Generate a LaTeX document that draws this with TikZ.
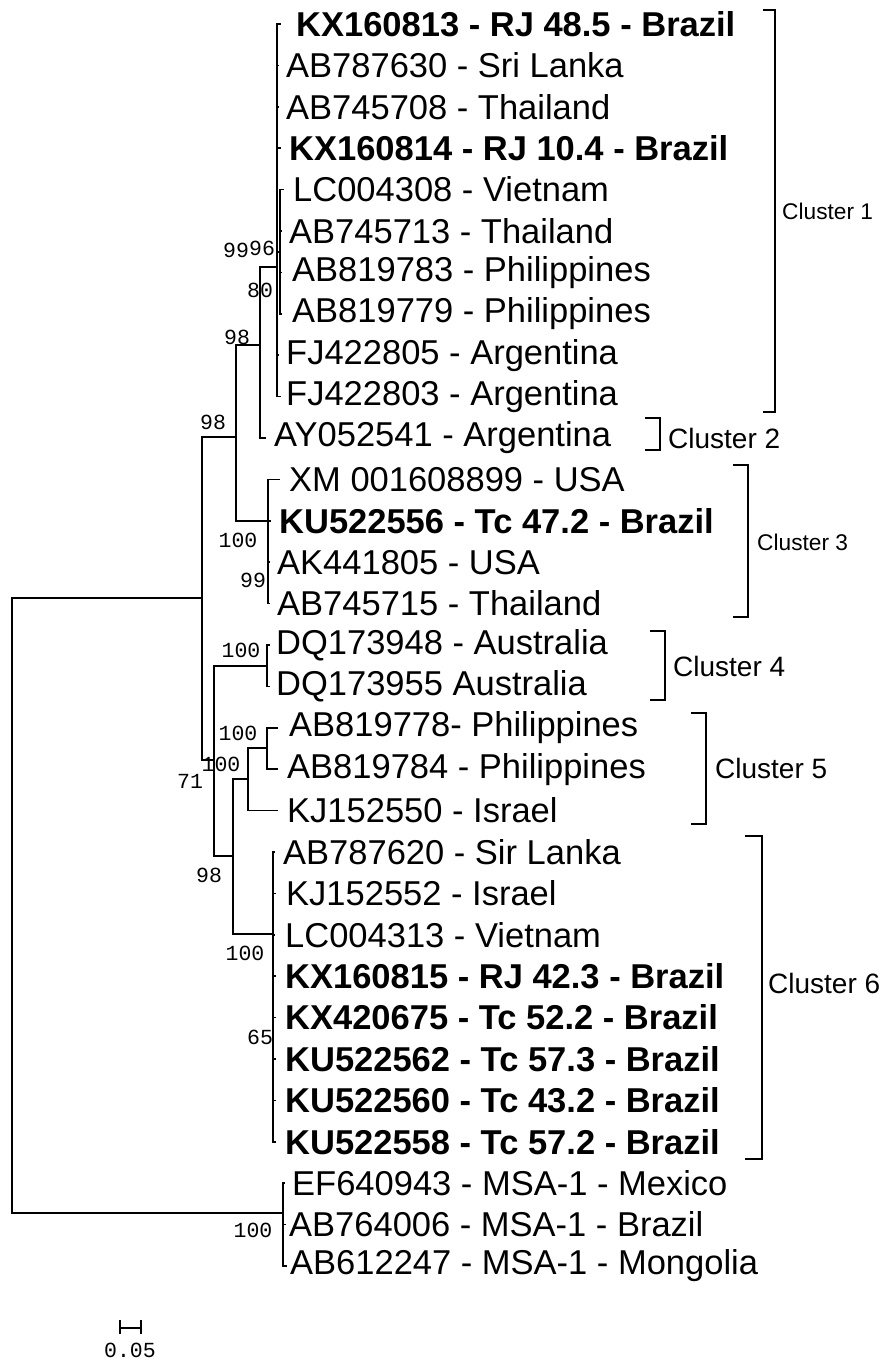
\documentclass[tikz,border=0pt]{standalone}
\usepackage{fontspec}
\setmainfont{Liberation Sans}
\newfontfamily\bootfont{Liberation Mono}
\tikzset{
  tbranch/.style ={line width=1.7pt, black},
  tleaf/.style   ={anchor=west, inner sep=0pt, font=\fontsize{34.5}{40}\selectfont},
  tleafbf/.style ={tleaf, font=\fontsize{34.5}{40}\selectfont\bfseries},
  tboot/.style   ={inner sep=0pt, font=\bootfont\fontsize{21.5}{23}\selectfont},
  tclus/.style   ={line width=1.7pt, black},
  tcluslab/.style={anchor=west, inner sep=0pt, font=\fontsize{28}{30}\selectfont},
  tcluslabs/.style={tcluslab, font=\fontsize{22.7}{25}\selectfont},
  tscale/.style  ={line width=1.4pt, black},
}
\begin{document}
\begin{tikzpicture}[x=1pt,y=-1pt]
  \useasboundingbox (0,0) rectangle (885,1360);
  % internal nodes
  \coordinate (root) at (12,905);
  \coordinate (n5)   at (202,598);
  \coordinate (n3)   at (236,437);
  \coordinate (n2)   at (260,345);
  \coordinate (n1)   at (277,267);
  \coordinate (n1b)  at (280,252);
  \coordinate (n4)   at (268,521);
  \coordinate (n6)   at (214,760);
  \coordinate (n7)   at (267,666);
  \coordinate (n8)   at (233,856);
  \coordinate (n9)   at (248,779);
  \coordinate (n10)  at (267,748);
  \coordinate (n11)  at (273,934);
  \coordinate (msa)  at (283,1213);
  % leaf tips
  \coordinate (t1)  at (281,24);
  \coordinate (t2)  at (279,65.4);
  \coordinate (t3)  at (279,106.8);
  \coordinate (t4)  at (281,148.2);
  \coordinate (t5)  at (284,189.6);
  \coordinate (t6)  at (282,231);
  \coordinate (t7)  at (282,272.4);
  \coordinate (t8)  at (282,313.8);
  \coordinate (t9)  at (279,355.2);
  \coordinate (t10) at (281,396.6);
  \coordinate (t11) at (266,438);
  \coordinate (t12) at (280,479.4);
  \coordinate (t13) at (271,520.8);
  \coordinate (t14) at (270,562.2);
  \coordinate (t15) at (270,603.6);
  \coordinate (t16) at (270,645);
  \coordinate (t17) at (270,686.4);
  \coordinate (t18) at (278,727.8);
  \coordinate (t19) at (278,769.2);
  \coordinate (t20) at (278,810.6);
  \coordinate (t21) at (275,852);
  \coordinate (t22) at (276,893.4);
  \coordinate (t23) at (275,934.8);
  \coordinate (t24) at (276,976.2);
  \coordinate (t25) at (276,1017.6);
  \coordinate (t26) at (276,1059);
  \coordinate (t27) at (276,1100.4);
  \coordinate (t28) at (276,1141.8);
  \coordinate (t29) at (285,1183.2);
  \coordinate (t30) at (286,1224.6);
  \coordinate (t31) at (287,1266);

  % branches
  \draw[tbranch] (root) |- (n5);
  \draw[tbranch] (root) |- (msa);
  \draw[tbranch] (n5) |- (n3);
  \draw[tbranch] (n5) |- (n6);
  \draw[tbranch] (n3) |- (n2);
  \draw[tbranch] (n3) |- (n4);
  \draw[tbranch] (n2) |- (n1);
  \draw[tbranch] (n2) |- (t11);
  \foreach \t in {1,2,3,4,9,10} \draw[tbranch] (n1) |- (t\t);
  \draw[tbranch] (n1) |- (n1b);
  \foreach \t in {5,...,8} \draw[tbranch] (n1b) |- (t\t);
  \foreach \t in {12,...,15} \draw[tbranch] (n4) |- (t\t);
  \draw[tbranch] (n6) |- (n7);
  \draw[tbranch] (n6) |- (n8);
  \draw[tbranch] (n7) |- (t16);
  \draw[tbranch] (n7) |- (t17);
  \draw[tbranch] (n8) |- (n9);
  \draw[tbranch] (n8) |- (n11);
  \draw[tbranch] (n9) |- (n10);
  \draw[tbranch] (n9) |- (t20);
  \draw[tbranch] (n10) |- (t18);
  \draw[tbranch] (n10) |- (t19);
  \foreach \t in {21,...,28} \draw[tbranch] (n11) |- (t\t);
  \foreach \t in {29,30,31} \draw[tbranch] (msa) |- (t\t);

  % leaf labels
  \node[tleafbf] (l1)  at (296,24)     {KX160813 - RJ 48.5 - Brazil};
  \node[tleaf]   (l2)  at (286,65.4)   {AB787630 - Sri Lanka};
  \node[tleaf]   (l3)  at (286,106.8)  {AB745708 - Thailand};
  \node[tleafbf] (l4)  at (289,148.2)  {KX160814 - RJ 10.4 - Brazil};
  \node[tleaf]   (l5)  at (293,189.6)  {LC004308 - Vietnam};
  \node[tleaf]   (l6)  at (289,231)    {AB745713 - Thailand};
  \node[tleaf]   (l7)  at (292,272.4)  {AB819783 - Philippines};
  \node[tleaf]   (l8)  at (292,313.8)  {AB819779 - Philippines};
  \node[tleaf]   (l9)  at (286,355.2)  {FJ422805 - Argentina};
  \node[tleaf]   (l10) at (286,396.6)  {FJ422803 - Argentina};
  \node[tleaf]   (l11) at (274,438)    {AY052541 - Argentina};
  \node[tleaf]   (l12) at (289,479.4)  {XM 001608899 - USA};
  \node[tleafbf] (l13) at (279,520.8)  {KU522556 - Tc 47.2 - Brazil};
  \node[tleaf]   (l14) at (277,562.2)  {AK441805 - USA};
  \node[tleaf]   (l15) at (277,603.6)  {AB745715 - Thailand};
  \node[tleaf]   (l16) at (276,645)    {DQ173948 - Australia};
  \node[tleaf]   (l17) at (276,686.4)  {DQ173955 Australia};
  \node[tleaf]   (l18) at (289,727.8)  {AB819778- Philippines};
  \node[tleaf]   (l19) at (287,769.2)  {AB819784 - Philippines};
  \node[tleaf]   (l20) at (287,810.6)  {KJ152550 - Israel};
  \node[tleaf]   (l21) at (283,852)    {AB787620 - Sir Lanka};
  \node[tleaf]   (l22) at (286,893.4)  {KJ152552 - Israel};
  \node[tleaf]   (l23) at (285,934.8)  {LC004313 - Vietnam};
  \node[tleafbf] (l24) at (285,976.2)  {KX160815 - RJ 42.3 - Brazil};
  \node[tleafbf] (l25) at (285,1017.6) {KX420675 - Tc 52.2 - Brazil};
  \node[tleafbf] (l26) at (285,1059)   {KU522562 - Tc 57.3 - Brazil};
  \node[tleafbf] (l27) at (285,1100.4) {KU522560 - Tc 43.2 - Brazil};
  \node[tleafbf] (l28) at (285,1141.8) {KU522558 - Tc 57.2 - Brazil};
  \node[tleaf]   (l29) at (292,1183.2) {EF640943 - MSA-1 - Mexico};
  \node[tleaf]   (l30) at (289,1224.6) {AB764006 - MSA-1 - Brazil};
  \node[tleaf]   (l31) at (290,1266)   {AB612247 - MSA-1 - Mongolia};

  % bootstrap values
  \node[tboot] (bs1)  at (236,250)  {99};
  \node[tboot] (bs2)  at (262,248)  {96};
  \node[tboot] (bs3)  at (260,290)  {80};
  \node[tboot] (bs4)  at (237,337)  {98};
  \node[tboot] (bs5)  at (213,422)  {98};
  \node[tboot] (bs6)  at (238,540)  {100};
  \node[tboot] (bs7)  at (253,580)  {99};
  \node[tboot] (bs8)  at (241,650)  {100};
  \node[tboot] (bs9)  at (238,733)  {100};
  \node[tboot] (bs10) at (221,764)  {100};
  \node[tboot] (bs11) at (190,781)  {71};
  \node[tboot] (bs12) at (209,875)  {98};
  \node[tboot] (bs13) at (245,953)  {100};
  \node[tboot] (bs14) at (260,1037) {65};
  \node[tboot] (bs15) at (253,1230) {100};

  % cluster brackets
  \draw[tclus] (763,10)  -- (775,10)  -- (775,412)  -- (763,412);
  \draw[tclus] (645,418) -- (660,418) -- (660,450)  -- (645,450);
  \draw[tclus] (733,465) -- (748,465) -- (748,617)  -- (733,617);
  \draw[tclus] (650,631) -- (665,631) -- (665,700)  -- (650,700);
  \draw[tclus] (691,713) -- (706,713) -- (706,824)  -- (691,824);
  \draw[tclus] (745,836) -- (762,836) -- (762,1159) -- (745,1159);
  \node[tcluslabs] (c1) at (782,211) {Cluster 1};
  \node[tcluslab]  (c2) at (668,438) {Cluster 2};
  \node[tcluslabs] (c3) at (757,542) {Cluster 3};
  \node[tcluslab]  (c4) at (673,666) {Cluster 4};
  \node[tcluslab]  (c5) at (715,768) {Cluster 5};
  \node[tcluslab]  (c6) at (768,983) {Cluster 6};

  % scale bar
  \coordinate (sb1) at (120,1328);
  \coordinate (sb2) at (141,1328);
  \draw[tscale] (sb1) -- (sb2);
  \draw[tscale] ([yshift=-6pt]sb1) -- ([yshift=8pt]sb1);
  \draw[tscale] ([yshift=-6pt]sb2) -- ([yshift=8pt]sb2);
  \node[tboot] (sbl) at (130,1350) {0.05};
\end{tikzpicture}
\end{document}
